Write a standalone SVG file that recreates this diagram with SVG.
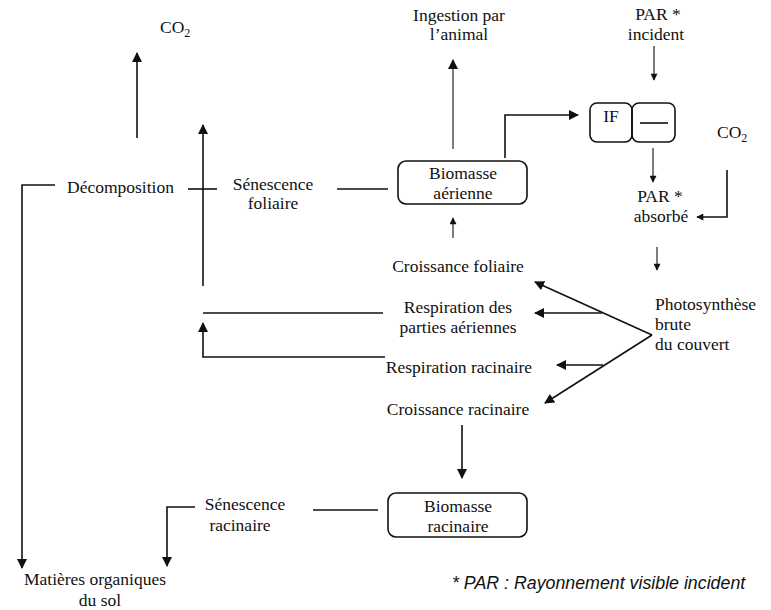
<svg xmlns="http://www.w3.org/2000/svg" width="771" height="610" viewBox="0 0 771 610">
<defs>
<style>
text{font-family:"Liberation Serif","Times New Roman",serif;font-size:17.5px;fill:#111}
.c{text-anchor:middle}
.fn{font-family:"Liberation Sans",Arial,sans-serif;font-style:italic;font-size:17.8px}
.ln{fill:none;stroke:#111;stroke-width:1.6}
.th{fill:none;stroke:#111;stroke-width:1.1}
.box{fill:none;stroke:#111;stroke-width:1.6}
</style>
<marker id="ah" viewBox="0 0 10 10" refX="9" refY="5" markerWidth="10" markerHeight="10" markerUnits="userSpaceOnUse" orient="auto"><path d="M0,0 L10,5 L0,10 z" fill="#111"/></marker>
<marker id="as" viewBox="0 0 10 10" refX="9" refY="5" markerWidth="8" markerHeight="7" markerUnits="userSpaceOnUse" orient="auto"><path d="M0,0 L10,5 L0,10 z" fill="#111"/></marker>
</defs>
<rect width="771" height="610" fill="#fff"/>

<g id="connectors">
<path class="ln" d="M137,138 V53" marker-end="url(#ah)"/>
<path class="ln" d="M203,286 V125" marker-end="url(#ah)"/>
<path class="ln" d="M188,189 H217"/>
<path class="ln" d="M55,185 H22 V568" marker-end="url(#ah)"/>
<path class="ln" d="M337,189 H388"/>
<path class="th" d="M453,149 V60" marker-end="url(#ah)"/>
<path class="ln" d="M505,158 V115 H578" marker-end="url(#ah)"/>
<path class="th" d="M654,46 V80" marker-end="url(#as)"/>
<path class="th" d="M653,148 V182" marker-end="url(#as)"/>
<path class="ln" d="M727,170 V217 H697" marker-end="url(#as)"/>
<path class="th" d="M657,247 V270" marker-end="url(#as)"/>
<path class="ln" d="M652,335 L535,282" marker-end="url(#ah)"/>
<path class="ln" d="M652,335 L545,403" marker-end="url(#ah)"/>
<path class="ln" d="M602,313 H535" marker-end="url(#ah)"/>
<path class="ln" d="M603,365 H557" marker-end="url(#ah)"/>
<path class="th" d="M453,238 V218" marker-end="url(#as)"/>
<path class="ln" d="M203,313 H383"/>
<path class="ln" d="M385,357 H203 V323" marker-end="url(#ah)"/>
<path class="ln" d="M462,425 V478" marker-end="url(#ah)"/>
<path class="ln" d="M313,510 H378"/>
<path class="ln" d="M195,507 H167 V566" marker-end="url(#ah)"/>
</g>

<g id="co2-top"><text x="160" y="33">CO<tspan font-size="12" dy="4">2</tspan></text></g>
<g id="ingestion"><text class="c" x="459" y="21">Ingestion par</text><text class="c" x="459" y="40">l’animal</text></g>
<g id="par-incident"><text class="c" x="658" y="20">PAR *</text><text class="c" x="656" y="40">incident</text></g>
<g id="if-box">
<rect class="box" x="590" y="103" width="42" height="39" rx="7"/>
<rect class="box" x="632" y="103" width="43" height="39" rx="7"/>
<text class="c" x="611" y="122">IF</text>
<path class="ln" d="M640,123 H668"/>
</g>
<g id="co2-right"><text x="717" y="138">CO<tspan font-size="12" dy="4">2</tspan></text></g>
<g id="par-absorbe"><text class="c" x="660" y="202">PAR *</text><text class="c" x="661" y="222">absorbé</text></g>
<g id="decomposition"><text x="67" y="193">Décomposition</text></g>
<g id="senescence-foliaire"><text class="c" x="273" y="190">Sénescence</text><text class="c" x="273" y="209">foliaire</text></g>
<g id="biomasse-aerienne">
<rect class="box" x="398" y="161" width="129" height="43" rx="8"/>
<text class="c" x="463" y="179">Biomasse</text><text class="c" x="463" y="199">aérienne</text>
</g>
<g id="croissance-foliaire"><text class="c" x="458" y="272">Croissance foliaire</text></g>
<g id="respiration-aeriennes"><text class="c" x="458" y="313">Respiration des</text><text class="c" x="458" y="333">parties aériennes</text></g>
<g id="respiration-racinaire"><text class="c" x="459" y="373">Respiration racinaire</text></g>
<g id="croissance-racinaire"><text class="c" x="458" y="415">Croissance racinaire</text></g>
<g id="photosynthese"><text x="655" y="310">Photosynthèse</text><text x="655" y="330">brute</text><text x="655" y="350">du couvert</text></g>
<g id="biomasse-racinaire">
<rect class="box" x="388" y="493" width="139" height="44" rx="8"/>
<text class="c" x="458" y="512">Biomasse</text><text class="c" x="458" y="532">racinaire</text>
</g>
<g id="senescence-racinaire"><text class="c" x="245" y="510">Sénescence</text><text class="c" x="240" y="531">racinaire</text></g>
<g id="matieres"><text class="c" x="95" y="585">Matières organiques</text><text class="c" x="100" y="606">du  sol</text></g>
<g id="footnote"><text class="fn" x="452" y="589">* PAR : Rayonnement visible incident</text></g>
</svg>
